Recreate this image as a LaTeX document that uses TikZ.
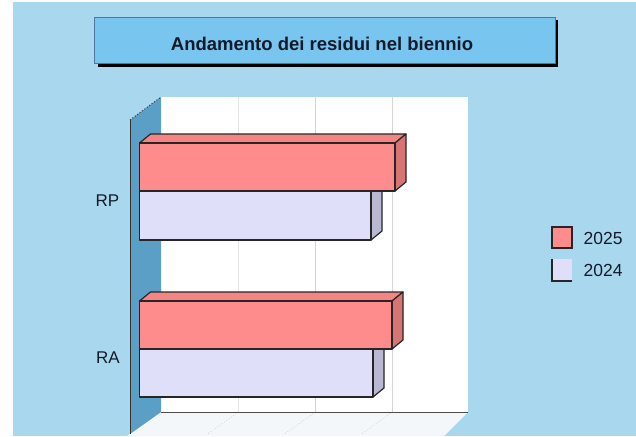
\documentclass[tikz,border=0pt]{standalone}
\usepackage{fontspec}
\setmainfont{Liberation Sans}
\definecolor{bgblue}{HTML}{A9D8EE}
\definecolor{titleblue}{HTML}{78C5EF}
\definecolor{titleedge}{HTML}{4A7A98}
\definecolor{wallblue}{HTML}{5B9FC6}
\definecolor{floorc}{HTML}{F3F7FA}
\definecolor{gridc}{HTML}{D4D4D4}
\definecolor{redfront}{HTML}{FF8C8C}
\definecolor{redtop}{HTML}{F58585}
\definecolor{redside}{HTML}{D87474}
\definecolor{lavfront}{HTML}{E0DFFA}
\definecolor{lavtop}{HTML}{D0D0EA}
\definecolor{lavside}{HTML}{B8B8D2}
\definecolor{txt}{HTML}{141A2A}
\tikzset{
  baredge/.style={draw=black!85, line width=1.2pt, line join=round},
  gridline/.style={draw=gridc, line width=0.8pt},
  lbl/.style={inner sep=0pt, text=txt, font=\fontsize{17}{19}\selectfont},
}
% bar: x0, x1, y0, y1, front, top, side
\newcommand\chartbar[7]{%
  \filldraw[baredge, fill=#6] (#1,#3) -- ({#1+11},{#3-9}) -- ({#2+11},{#3-9}) -- (#2,#3) -- cycle;
  \filldraw[baredge, fill=#7] (#2,#3) -- ({#2+11},{#3-9}) -- ({#2+11},{#4-9}) -- (#2,#4) -- cycle;
  \filldraw[baredge, fill=#5] (#1,#3) rectangle (#2,#4);
}
\begin{document}
\begin{tikzpicture}[x=1pt,y=-1pt]
\useasboundingbox (0,0) rectangle (636,436);
\fill[white] (0,0) rectangle (636,436);
\fill[bgblue] (13,2) rectangle (636,436);
% title
\fill[black] (97.5,20.5) rectangle (558,66.5);
\filldraw[fill=titleblue, draw=titleedge, line width=0.8pt] (94,17) rectangle (555,63);
\node[inner sep=0pt, anchor=base, text=txt, font=\fontsize{18.5}{20}\bfseries] (title) at (322,50) {Andamento dei residui nel biennio};
% back wall
\fill[white] (161,97) rectangle (468,412);
\draw[gridline, draw=gridc!60] (238.5,97) -- (238.5,412);
\draw[gridline] (315.5,97) -- (315.5,412);
\draw[gridline] (392.5,97) -- (392.5,412);
% floor
\fill[floorc] (161,412) -- (468,412) -- (444,436) -- (127,436) -- cycle;
\draw[gridc, dotted, line width=0.8pt] (238.5,412) -- (207.5,434);
\draw[gridc, dotted, line width=0.8pt] (315.5,412) -- (284.5,434);
\draw[gridc, dotted, line width=0.8pt] (392.5,412) -- (361.5,434);
\draw[black!70, line width=1pt] (161,412) -- (468,412);
% left wall
\fill[wallblue] (130,120) -- (161,97) -- (161,412) -- (130,434) -- cycle;
\draw[black!80, dotted, line width=1pt] (130,120) -- (161,97);
\draw[black!80, line width=1pt] (130,120) -- (130,434);
% bars
\chartbar{139.5}{371}{191}{240}{lavfront}{lavtop}{lavside}
\chartbar{139.5}{395}{143}{191}{redfront}{redtop}{redside}
\chartbar{139.5}{373}{349}{397}{lavfront}{lavtop}{lavside}
\chartbar{139.5}{392}{301}{349}{redfront}{redtop}{redside}
% category labels
\node[lbl, anchor=base east] (rp) at (119.5,206) {RP};
\node[lbl, anchor=base east] (ra) at (120,363) {RA};
% legend
\filldraw[fill=redfront, draw=black!85, line width=1.1pt] (552,227) rectangle (572,248);
\fill[lavfront] (552,259) rectangle (572,281);
\draw[black!85, line width=1.1pt] (552,259) -- (552,281) -- (572,281);
\node[lbl, anchor=base west, font=\fontsize{17.5}{19}\selectfont] (l25) at (583.5,244) {2025};
\node[lbl, anchor=base west, font=\fontsize{17.5}{19}\selectfont] (l24) at (583.5,276) {2024};
\end{tikzpicture}
\end{document}
